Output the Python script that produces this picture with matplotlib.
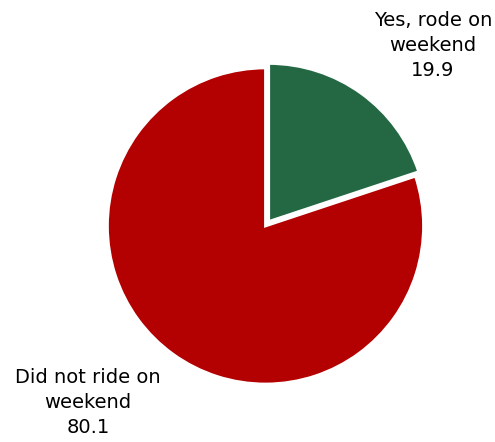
import matplotlib.pyplot as plt

labels = ["Yes, rode on\nweekend\n19.9", "Did not ride on\nweekend\n80.1"]
values = [19.9, 80.1]
colors = ["#236843", "#B30000"]

fig = plt.figure(figsize=(4.95, 4.42), dpi=100)
ax = fig.add_axes([0, 0, 1, 1])

ax.pie(values, colors=colors, startangle=90, counterclock=False,
       explode=[0.035, 0], wedgeprops=dict(edgecolor="white", linewidth=2))

# label positions (data coords, pie radius = 1)
ax.text(1.06, 1.14, labels[0], ha="center", va="center", fontsize=14, linespacing=1.4)
ax.text(-1.123, -1.12, labels[1], ha="center", va="center", fontsize=14, linespacing=1.4)

ax.set_xlim(-1.680, 1.4525)
ax.set_ylim(-1.367, 1.430)
ax.set_aspect("auto")
ax.axis("off")

fig.savefig("out.png", dpi=100)
